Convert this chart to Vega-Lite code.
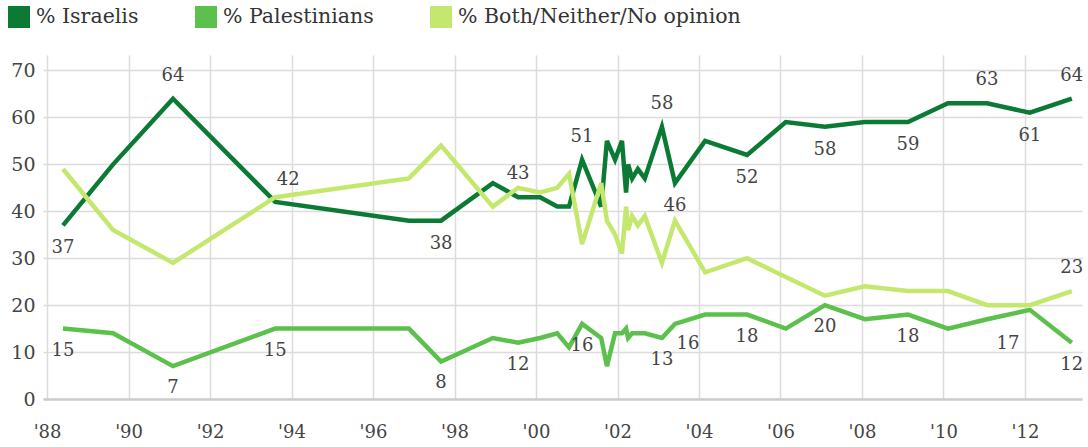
{
  "$schema": "https://vega.github.io/schema/vega-lite/v6.json",
  "autosize": {"type": "none"},
  "width": 1039,
  "height": 344,
  "padding": {"left": 43, "top": 55, "right": 6, "bottom": 48},
  "background": "white",
  "config": {
    "view": {"stroke": null},
    "font": "DejaVu Serif",
    "axis": {"labelFont": "DejaVu Serif", "labelColor": "#444", "gridColor": "#dcdcdc", "gridWidth": 1.5}
  },
  "data": {
    "values": [
      {"year": 1988.39, "Israelis": 37, "Palestinians": 15, "Both": 49},
      {"year": 1989.62, "Israelis": 50, "Palestinians": 14, "Both": 36},
      {"year": 1991.09, "Israelis": 64, "Palestinians": 7, "Both": 29},
      {"year": 1993.6, "Israelis": 42, "Palestinians": 15, "Both": 43},
      {"year": 1996.88, "Israelis": 38, "Palestinians": 15, "Both": 47},
      {"year": 1997.67, "Israelis": 38, "Palestinians": 8, "Both": 54},
      {"year": 1998.94, "Israelis": 46, "Palestinians": 13, "Both": 41},
      {"year": 1999.56, "Israelis": 43, "Palestinians": 12, "Both": 45},
      {"year": 2000.1, "Israelis": 43, "Palestinians": 13, "Both": 44},
      {"year": 2000.52, "Israelis": 41, "Palestinians": 14, "Both": 45},
      {"year": 2000.81, "Israelis": 41, "Palestinians": 11, "Both": 48},
      {"year": 2001.13, "Israelis": 51, "Palestinians": 16, "Both": 33},
      {"year": 2001.6, "Israelis": 41, "Palestinians": 13, "Both": 46},
      {"year": 2001.74, "Israelis": 55, "Palestinians": 7, "Both": 38},
      {"year": 2001.94, "Israelis": 51, "Palestinians": 14, "Both": 35},
      {"year": 2002.11, "Israelis": 55, "Palestinians": 14, "Both": 31},
      {"year": 2002.21, "Israelis": 44, "Palestinians": 15, "Both": 41},
      {"year": 2002.26, "Israelis": 50, "Palestinians": 13, "Both": 36},
      {"year": 2002.36, "Israelis": 47, "Palestinians": 14, "Both": 39},
      {"year": 2002.5, "Israelis": 49, "Palestinians": 14, "Both": 37},
      {"year": 2002.67, "Israelis": 47, "Palestinians": 14, "Both": 39},
      {"year": 2003.09, "Israelis": 58, "Palestinians": 13, "Both": 29},
      {"year": 2003.41, "Israelis": 46, "Palestinians": 16, "Both": 38},
      {"year": 2004.15, "Israelis": 55, "Palestinians": 18, "Both": 27},
      {"year": 2005.18, "Israelis": 52, "Palestinians": 18, "Both": 30},
      {"year": 2006.13, "Israelis": 59, "Palestinians": 15, "Both": 26},
      {"year": 2007.09, "Israelis": 58, "Palestinians": 20, "Both": 22},
      {"year": 2008.07, "Israelis": 59, "Palestinians": 17, "Both": 24},
      {"year": 2009.13, "Israelis": 59, "Palestinians": 18, "Both": 23},
      {"year": 2010.11, "Israelis": 63, "Palestinians": 15, "Both": 23},
      {"year": 2011.07, "Israelis": 63, "Palestinians": 17, "Both": 20},
      {"year": 2012.12, "Israelis": 61, "Palestinians": 19, "Both": 20},
      {"year": 2013.15, "Israelis": 64, "Palestinians": 12, "Both": 23}
    ]
  },
  "transform": [
    {"fold": ["Israelis", "Palestinians", "Both"], "as": ["key", "value"]},
    {"lookup": "key", "from": {"data": {"values": [
      {"key": "Israelis", "series": "% Israelis"},
      {"key": "Palestinians", "series": "% Palestinians"},
      {"key": "Both", "series": "% Both/Neither/No opinion"}
    ]}, "key": "key", "fields": ["series"]}}
  ],
  "encoding": {
    "x": {
      "field": "year", "type": "quantitative",
      "scale": {"domain": [1987.9, 2013.4], "nice": false, "zero": false},
      "axis": {
        "title": null, "values": [1988, 1990, 1992, 1994, 1996, 1998, 2000, 2002, 2004, 2006, 2008, 2010, 2012],
        "labelExpr": "\"'\" + substring(toString(datum.value), 2, 4)",
        "ticks": false, "labelPadding": 24, "labelFontSize": 18,
        "domainColor": "#cccccc", "domainWidth": 2.5, "grid": true
      }
    },
    "y": {
      "field": "value", "type": "quantitative",
      "scale": {"domain": [0, 73.3], "nice": false},
      "axis": {
        "title": null, "values": [0, 10, 20, 30, 40, 50, 60, 70],
        "ticks": false, "labelPadding": 8, "labelFontSize": 19, "domain": false, "grid": true
      }
    }
  },
  "layer": [
    {
      "mark": {"type": "line", "strokeWidth": 4.5},
      "encoding": {
        "color": {
          "field": "series", "type": "nominal",
          "scale": {"domain": ["% Israelis", "% Palestinians", "% Both/Neither/No opinion"], "range": ["#0b7a34", "#5cc04c", "#c4e86e"]},
          "legend": {
            "title": null, "orient": "none", "direction": "horizontal",
            "legendX": -35, "legendY": -49, "padding": 0,
            "symbolType": "square", "symbolSize": 100, "symbolStrokeWidth": 12, "symbolOpacity": 1,
            "labelFont": "DejaVu Serif", "labelFontSize": 20.5, "labelColor": "#333", "labelOffset": 6,
            "columnPadding": 38, "labelLimit": 400
          }
        }
      }
    },
    {
      "transform": [{"filter": {"and": [{"field": "key", "equal": "Israelis"}, {"field": "year", "oneOf": [1991.09, 1999.56, 2001.13, 2003.09, 2011.07, 2013.15]}]}}],
      "mark": {"type": "text", "dy": -23, "fontSize": 18, "color": "#444", "font": "DejaVu Serif"},
      "encoding": {"text": {"field": "value", "type": "quantitative"}}
    },
    {
      "transform": [{"filter": {"and": [{"field": "key", "equal": "Israelis"}, {"field": "year", "oneOf": [1993.6]}]}}],
      "mark": {"type": "text", "dy": -22, "dx": 13, "fontSize": 18, "color": "#444", "font": "DejaVu Serif"},
      "encoding": {"text": {"field": "value", "type": "quantitative"}}
    },
    {
      "transform": [{"filter": {"and": [{"field": "key", "equal": "Israelis"}, {"field": "year", "oneOf": [1988.39, 1997.67, 2003.41, 2005.18, 2007.09, 2009.13, 2012.12]}]}}],
      "mark": {"type": "text", "dy": 23, "fontSize": 18, "color": "#444", "font": "DejaVu Serif"},
      "encoding": {"text": {"field": "value", "type": "quantitative"}}
    },
    {
      "transform": [{"filter": {"and": [{"field": "key", "equal": "Both"}, {"field": "year", "oneOf": [2013.15]}]}}],
      "mark": {"type": "text", "dy": -23, "fontSize": 18, "color": "#444", "font": "DejaVu Serif"},
      "encoding": {"text": {"field": "value", "type": "quantitative"}}
    },
    {
      "transform": [{"filter": {"and": [{"field": "key", "equal": "Palestinians"}, {"field": "year", "oneOf": [1988.39, 1991.09, 1993.6, 1997.67, 1999.56, 2001.13, 2003.09, 2005.18, 2007.09, 2009.13, 2013.15]}]}}],
      "mark": {"type": "text", "dy": 22, "fontSize": 18, "color": "#444", "font": "DejaVu Serif"},
      "encoding": {"text": {"field": "value", "type": "quantitative"}}
    },
    {
      "transform": [{"filter": {"and": [{"field": "key", "equal": "Palestinians"}, {"field": "year", "oneOf": [2003.41]}]}}],
      "mark": {"type": "text", "dy": 20, "dx": 13, "fontSize": 18, "color": "#444", "font": "DejaVu Serif"},
      "encoding": {"text": {"field": "value", "type": "quantitative"}}
    },
    {
      "transform": [{"filter": {"and": [{"field": "key", "equal": "Palestinians"}, {"field": "year", "oneOf": [2011.07]}]}}],
      "mark": {"type": "text", "dy": 25, "dx": 21, "fontSize": 18, "color": "#444", "font": "DejaVu Serif"},
      "encoding": {"text": {"field": "value", "type": "quantitative"}}
    }
  ]
}
